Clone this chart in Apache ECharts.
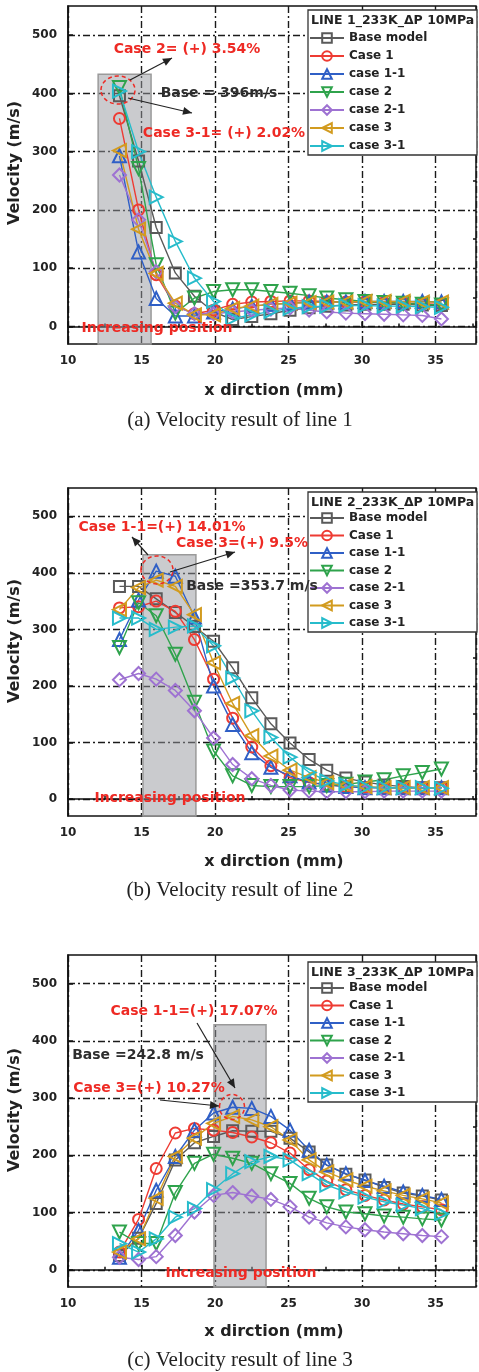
<!DOCTYPE html>
<html><head><meta charset="utf-8">
<script src="https://cdn.jsdelivr.net/npm/echarts@6/dist/echarts.min.js"></script>
<style>html,body{margin:0;padding:0;background:#fff}#c{width:479px;height:1372px}</style>
</head><body><div id="c"></div>
<script>
// ---------------- DATA ----------------
const xPositions = [13.5, 14.8, 16.0, 17.3, 18.6, 19.9, 21.2, 22.5, 23.8, 25.1, 26.4, 27.6, 28.9, 30.2, 31.5, 32.8, 34.1, 35.4];
const seriesNames = ['Base model', 'Case 1', 'case 1-1', 'case 2', 'case 2-1', 'case 3', 'case 3-1'];
const yTickValues = [0, 100, 200, 300, 400, 500];
const yMinorTickValues = [50, 150, 250, 350, 450];

// Line 1
const line1Base  = [396, 284, 170, 92, 52, 25, 12, 17, 22, 28, 32, 35, 37, 38, 38, 38, 37, 36];
const line1Case1 = [357, 200, 89, 35, 22, 28, 38, 42, 43, 44, 44, 43, 42, 42, 41, 40, 39, 38];
const line1Case1_1 = [293, 128, 48, 18, 18, 25, 30, 35, 38, 40, 42, 42, 42, 43, 43, 43, 43, 42];
const line1Case2 = [410, 271, 106, 23, 49, 60, 63, 63, 60, 57, 53, 49, 46, 43, 41, 40, 38, 37];
const line1Case2_1 = [260, 183, 94, 34, 22, 22, 25, 28, 30, 32, 28, 25, 23, 22, 21, 20, 19, 13];
const line1Case3 = [302, 167, 91, 40, 20, 20, 31, 35, 38, 40, 41, 42, 42, 43, 43, 43, 42, 42];
const line1Case3_1 = [404, 300, 222, 146, 83, 43, 14, 20, 26, 31, 34, 35, 36, 36, 35, 35, 34, 33];

// Line 2
const line2Base  = [376, 376, 354, 330, 305, 279, 232, 179, 133, 99, 70, 51, 37, 30, 25, 22, 20, 20];
const line2Case1 = [338, 340, 350, 332, 282, 212, 143, 92, 59, 38, 29, 25, 22, 21, 20, 20, 20, 20];
const line2Case1_1 = [282, 352, 403, 394, 322, 200, 132, 82, 56, 41, 30, 25, 22, 20, 20, 20, 20, 20];
const line2Case2 = [268, 347, 324, 256, 171, 85, 41, 24, 22, 22, 22, 24, 26, 30, 34, 41, 47, 53];
const line2Case2_1 = [211, 222, 212, 192, 156, 108, 61, 36, 24, 16, 14, 13, 13, 13, 14, 14, 14, 14];
const line2Case3 = [335, 374, 387, 376, 326, 241, 169, 112, 76, 51, 38, 29, 24, 22, 20, 20, 20, 20];
const line2Case3_1 = [320, 320, 300, 304, 306, 271, 214, 156, 109, 74, 47, 32, 25, 21, 20, 20, 20, 19];

// Line 3
const line3Base  = [25, 55, 116, 192, 222, 233, 243, 242, 242, 230, 206, 183, 167, 157, 144, 134, 129, 122];
const line3Case1 = [31, 88, 177, 239, 247, 244, 240, 232, 222, 204, 175, 155, 140, 130, 122, 115, 110, 105];
const line3Case1_1 = [22, 69, 139, 198, 244, 274, 284, 282, 268, 244, 209, 183, 168, 156, 146, 136, 130, 123];
const line3Case2 = [66, 46, 46, 135, 186, 202, 195, 186, 168, 151, 125, 110, 101, 98, 94, 92, 89, 87];
const line3Case2_1 = [22, 18, 23, 60, 101, 130, 135, 129, 123, 110, 92, 82, 75, 70, 66, 63, 60, 58];
const line3Case3 = [31, 54, 125, 198, 230, 256, 268, 262, 250, 227, 192, 171, 157, 146, 138, 130, 124, 117];
const line3Case3_1 = [46, 31, 54, 92, 107, 140, 168, 189, 198, 192, 168, 148, 136, 127, 119, 113, 107, 98];

// Increasing position regions [xStart, xEnd, yTop]
const region1 = [12.05, 15.65, 433];
const region2 = [15.1, 18.7, 432];
const region3 = [19.93, 23.47, 428];

const legendTitles = ['LINE 1_233K_\u0394P 10MPa', 'LINE 2_233K_\u0394P 10MPa', 'LINE 3_233K_\u0394P 10MPa'];
const captions = ['(a) Velocity result of line 1', '(b) Velocity result of line 2', '(c) Velocity result of line 3'];

// ---------------- STYLE ----------------
const allData = [
  [line1Base, line1Case1, line1Case1_1, line1Case2, line1Case2_1, line1Case3, line1Case3_1],
  [line2Base, line2Case1, line2Case1_1, line2Case2, line2Case2_1, line2Case3, line2Case3_1],
  [line3Base, line3Case1, line3Case1_1, line3Case2, line3Case2_1, line3Case3, line3Case3_1]
];
const regions = [region1, region2, region3];
const colors = ['#5a5a5a', '#ee3b33', '#2f5fc6', '#2fa34c', '#9e72d2', '#d29b1f', '#27bccb'];
const symbols = ['rect', 'circle', 'triangle', 'triangle', 'diamond', 'triangle', 'triangle'];
const symbolRot = [0, 0, 0, 180, 0, 90, -90];
const symbolSizes = [11, 11, 13, 13, 13, 13, 13];

const grids = [
  {left: 68, top: 6, width: 408, height: 338},
  {left: 68, top: 488, width: 408, height: 328},
  {left: 68, top: 955, width: 408, height: 332}
];
const FONT = 'DejaVu Sans';
const gridLineStyle = {color: '#1a1a1a', width: 1.4, type: [7, 3, 2, 3]};

const xAxes = [], yAxes = [], series = [], legends = [];
grids.forEach((g, gi) => {
  xAxes.push({
    type: 'value', gridIndex: gi, min: 10, max: 37.75, interval: 5,
    axisLine: {lineStyle: {color: '#111', width: 1.5}},
    axisTick: {inside: true, length: 5, lineStyle: {color: '#111', width: 1.5}},
    minorTick: {show: true, splitNumber: 2, length: 3, lineStyle: {color: '#111', width: 1.5}},
    axisLabel: {showMaxLabel: false, margin: 11, fontFamily: FONT, fontWeight: 'bold', fontSize: 12, color: '#222'},
    splitLine: {show: true, lineStyle: gridLineStyle}
  });
  yAxes.push({
    type: 'value', gridIndex: gi, min: -30, max: 550,
    axisLine: {show: true, lineStyle: {color: '#111', width: 1.5}},
    axisTick: {show: true, inside: true, length: 5, customValues: yTickValues, lineStyle: {color: '#111', width: 1.5}},
    axisLabel: {customValues: yTickValues, margin: 11, fontFamily: FONT, fontWeight: 'bold', fontSize: 12, color: '#222'},
    splitLine: {show: true, lineStyle: gridLineStyle}
  });
  yAxes.push({
    type: 'value', gridIndex: gi, min: -30, max: 550,
    axisLine: {show: false},
    axisTick: {show: true, inside: true, length: 3, customValues: yMinorTickValues, lineStyle: {color: '#111', width: 1.5}},
    axisLabel: {show: false},
    splitLine: {show: false}
  });
  allData[gi].forEach((vals, si) => {
    const s = {
      type: 'line', name: seriesNames[si], xAxisIndex: gi, yAxisIndex: gi * 2,
      data: xPositions.map((x, i) => [x, vals[i]]),
      symbol: symbols[si], symbolSize: symbolSizes[si], symbolRotate: symbolRot[si],
      showAllSymbol: true,
      lineStyle: {color: colors[si], width: 1.4},
      itemStyle: {color: 'rgba(255,255,255,0)', borderColor: colors[si], borderWidth: 2},
      emphasis: {disabled: true},
      z: 2
    };
    if (si === 0) {
      const r = regions[gi];
      s.markArea = {
        silent: true,
        itemStyle: {color: 'rgba(150,152,158,0.5)', borderColor: '#9a9a9a', borderWidth: 1.5},
        data: [[{xAxis: r[0], yAxis: -30}, {xAxis: r[1], yAxis: r[2]}]]
      };
    }
    series.push(s);
  });
  const legendTop = [31, 511, 981][gi];
  legends.push({
    data: seriesNames, orient: 'vertical', left: 309, top: legendTop, padding: 0,
    itemWidth: 34, itemHeight: 12, itemGap: gi === 0 ? 4 : 3.5, selectedMode: false,
    textStyle: {fontFamily: FONT, fontWeight: 'bold', fontSize: 12, color: '#222', lineHeight: 14}
  });
});

// annotations (pixel positions, layout only)
const graphics = [];
function txt(x, y, text, color, size, extra) {
  graphics.push(Object.assign({type: 'text', x: x, y: y, z: 20,
    style: {text: text, fill: color, font: 'bold ' + size + 'px "' + FONT + '"', align: 'center', verticalAlign: 'middle'}}, extra || {}));
}
function arrow(x1, y1, x2, y2) {
  graphics.push({type: 'line', z: 20, shape: {x1: x1, y1: y1, x2: x2, y2: y2}, style: {stroke: '#222', lineWidth: 1.2}});
  const a = Math.atan2(y2 - y1, x2 - x1), L = 9, W = 4;
  const bx = x2 - L * Math.cos(a), by = y2 - L * Math.sin(a);
  graphics.push({type: 'polygon', z: 20, shape: {points: [[x2, y2], [bx + W * Math.sin(a), by - W * Math.cos(a)], [bx - W * Math.sin(a), by + W * Math.cos(a)]]}, style: {fill: '#222'}});
}
function ring(cx, cy, rx, ry) {
  graphics.push({type: 'ellipse', z: 20, shape: {cx: cx, cy: cy, rx: rx, ry: ry}, style: {fill: 'none', stroke: '#ee2a24', lineWidth: 1.5, lineDash: [4, 3]}});
}
const RED = '#ee2a24', DARK = '#2e2e2e';
// legend boxes
[[10, 145], [492, 140], [962, 140]].forEach((b, gi) => {
  graphics.push({type: 'rect', z: 3, shape: {x: 308, y: b[0], width: 169, height: b[1]}, style: {fill: '#fff', stroke: '#333', lineWidth: 1.3}});
  graphics.push({type: 'text', z: 20, x: 311, y: b[0] + 11, style: {text: legendTitles[gi], fill: '#222', font: 'bold 12.5px "' + FONT + '"', align: 'left', verticalAlign: 'middle'}});
});
// axis names and captions
[[163, 391, 420], [641, 862, 890], [1110, 1332, 1360]].forEach((p, gi) => {
  txt(15, p[0], 'Velocity (m/s)', '#222', 16, {rotation: Math.PI / 2});
  txt(274, p[1], 'x dirction (mm)', '#222', 16);
  graphics.push({type: 'text', x: 240, y: p[2], z: 20, style: {text: captions[gi], fill: '#222', font: '21px "Liberation Serif"', align: 'center', verticalAlign: 'middle'}});
});
// chart 1 annotations
ring(118, 90, 17, 14);
arrow(130, 80, 172, 58);
arrow(128, 98, 192, 113);
txt(187, 49, 'Case 2= (+) 3.54%', RED, 14);
txt(219, 93, 'Base = 396m/s', DARK, 14);
txt(224, 133, 'Case 3-1= (+) 2.02%', RED, 14);
txt(157, 328, 'Increasing position', RED, 14);
// chart 2 annotations
ring(157, 570, 16, 14);
arrow(148, 555, 132, 537);
arrow(170, 572, 235, 552);
txt(162, 527, 'Case 1-1=(+) 14.01%', RED, 14);
txt(242, 543, 'Case 3=(+) 9.5%', RED, 14);
txt(252, 586, 'Base =353.7 m/s', DARK, 14);
txt(170, 798, 'Increasing position', RED, 14);
// chart 3 annotations
ring(232, 1107, 12.5, 12.5);
arrow(197, 1023, 235, 1088);
arrow(160, 1100, 219, 1106);
txt(194, 1011, 'Case 1-1=(+) 17.07%', RED, 14);
txt(138, 1055, 'Base =242.8 m/s', DARK, 14);
txt(149, 1088, 'Case 3=(+) 10.27%', RED, 14);
txt(241, 1273, 'Increasing position', RED, 14);

const chart = echarts.init(document.getElementById('c'), null, {renderer: 'canvas'});
chart.setOption({
  animation: false,
  backgroundColor: '#fff',
  grid: grids.map(g => Object.assign({show: true, borderColor: '#111', borderWidth: 1.5, backgroundColor: 'transparent'}, g)),
  xAxis: xAxes, yAxis: yAxes, series: series, legend: legends,
  graphic: graphics
});
</script></body></html>
